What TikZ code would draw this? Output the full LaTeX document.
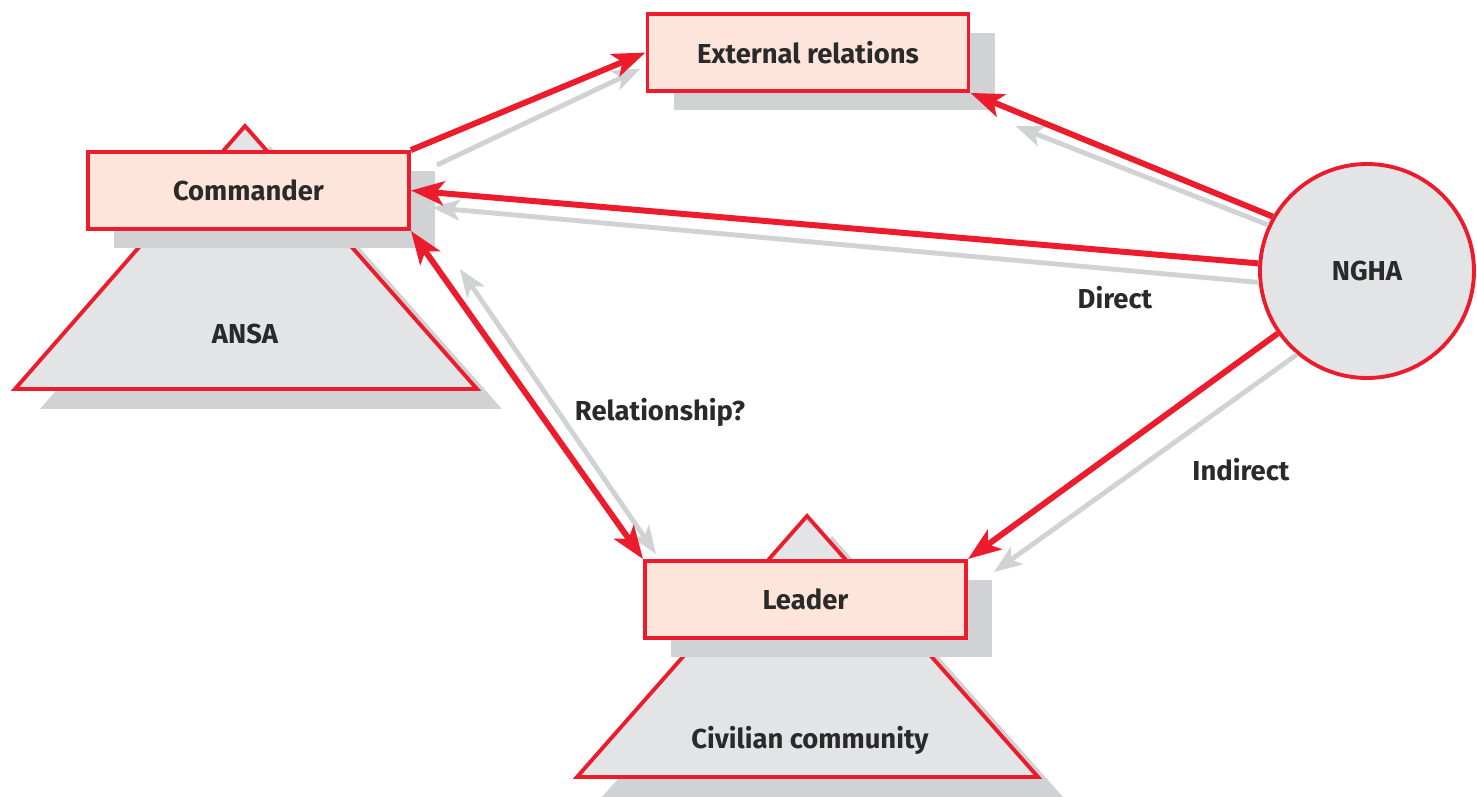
\documentclass[tikz,border=0pt]{standalone}
\usepackage{fontspec}
\setmainfont{Fira Sans}
\usetikzlibrary{arrows.meta, shadows, positioning}
\definecolor{ngred}{HTML}{EC1C2C}
\definecolor{boxpink}{HTML}{FDE5DC}
\definecolor{shapegrey}{HTML}{E3E4E6}
\definecolor{shadowgrey}{HTML}{D1D2D4}
\definecolor{textgrey}{HTML}{2A2A2A}

\begin{document}
\begin{tikzpicture}[
    every node/.style={font=\fontsize{7.8}{9}\selectfont\bfseries, text=textgrey},
    role/.style={draw=ngred, line width=1.1pt, fill=boxpink, rectangle, minimum width=3.21cm, minimum height=0.77cm, inner sep=0pt, drop shadow={shadow xshift=0.26cm, shadow yshift=-0.19cm, fill=shadowgrey, opacity=1}},
    group/.style={draw=ngred, line width=1.1pt, fill=shapegrey, drop shadow={shadow xshift=0.25cm, shadow yshift=-0.2cm, fill=shadowgrey, opacity=1}},
    actor/.style={draw=ngred, line width=1.1pt, fill=shapegrey, circle, minimum size=2.14cm, inner sep=0pt},
    arrow/.style={-{Stealth[length=3.3mm, width=2.4mm, inset=0.8mm]}, line width=1.7pt, draw=ngred},
    echo/.style={-{Stealth[length=2.8mm, width=2.1mm, inset=0.7mm]}, line width=1.4pt, draw=shadowgrey}
]
\useasboundingbox (0,0) rectangle (14.77,7.96);

% communities
\draw[group] (0.15,4.07) -- (2.45,6.70) -- (4.77,4.07) -- cycle;
\draw[group] (5.77,0.19) -- (8.07,2.80) -- (10.38,0.19) -- cycle;
\node (ansa) at (2.45,4.62) {ANSA};
\node (civ) at (8.10,0.56) {Civilian community};

% actors
\node[role] (cmd) at (2.485,6.055) {Commander};
\node[role] (ext) at (8.08,7.435) {External relations};
\node[role] (ldr) at (8.055,1.965) {Leader};
\node[actor] (ngha) at (13.67,5.25) {NGHA};

% grey echoes
\draw[echo] ([shift={(0.26,-0.15)}]cmd.north east) -- ([shift={(-0.05,-0.16)}]ext.west);
\draw[echo] (ngha.186) -- ([shift={(0.21,-0.17)}]cmd.east);
\draw[echo] (ngha.155) -- ([shift={(0.45,-0.33)}]ext.south east);
\draw[echo] (ngha.230) -- ([shift={(0.26,-0.13)}]ldr.north east);
\draw[echo, {Stealth[length=2.8mm, width=2.1mm, inset=0.7mm]}-{Stealth[length=2.8mm, width=2.1mm, inset=0.7mm]}] ([shift={(0.49,-0.38)}]cmd.south east) -- ([shift={(0.13,0.05)}]ldr.north west);

% red links
\draw[arrow] (cmd.north east) -- (ext.west);
\draw[arrow] (ngha.176) -- (cmd.east);
\draw[arrow] (ngha.150) -- (ext.south east);
\draw[arrow] (ngha.215) -- (ldr.north east);
\draw[arrow, {Stealth[length=3.3mm, width=2.4mm, inset=0.8mm]}-{Stealth[length=3.3mm, width=2.4mm, inset=0.8mm]}] (cmd.south east) -- (ldr.north west);

% labels
\node (direct) at (11.15,4.98) {Direct};
\node (rel) at (6.60,3.84) {Relationship?};
\node (ind) at (12.41,3.26) {Indirect};

\end{tikzpicture}
\end{document}
